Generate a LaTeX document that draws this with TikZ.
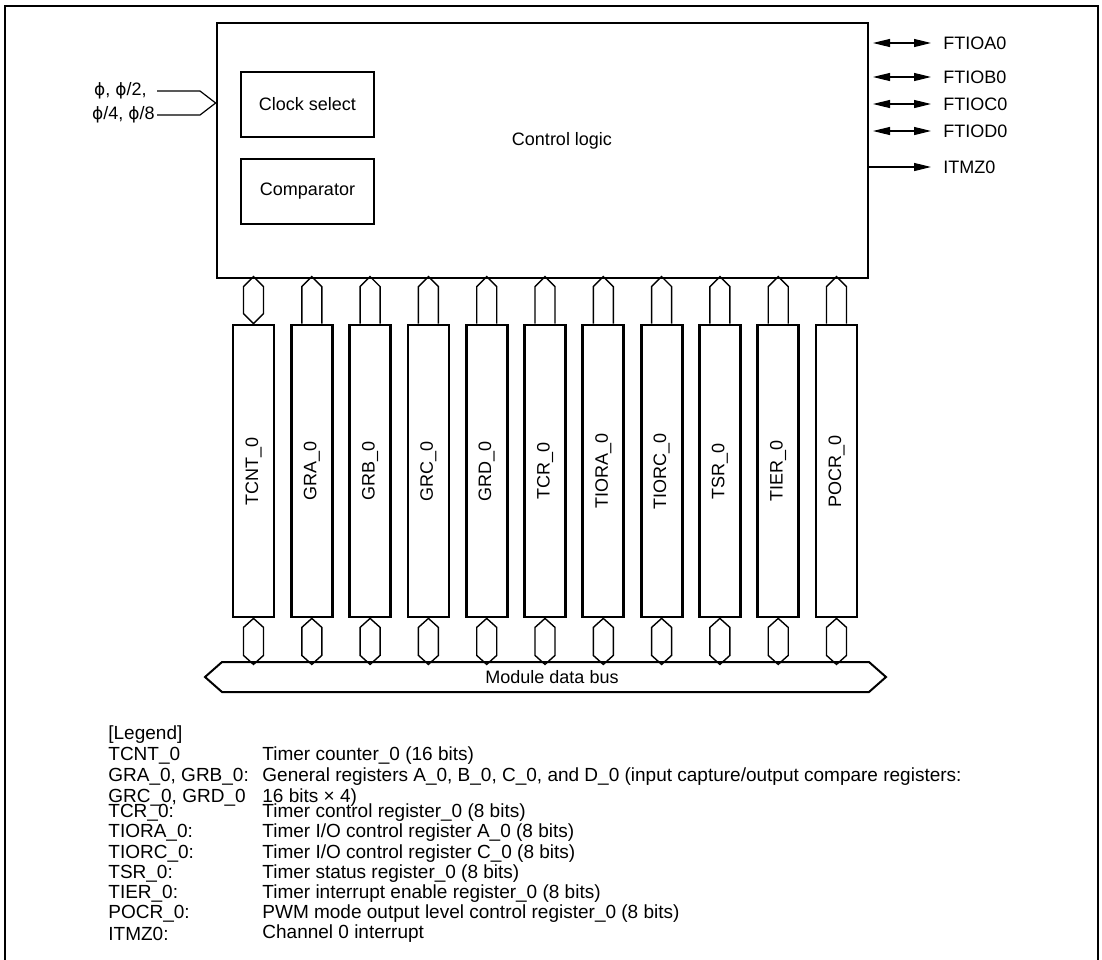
\documentclass[tikz,border=0pt]{standalone}
\usepackage{fontspec}
\setmainfont{Liberation Sans}
\newfontfamily\symfont{DejaVu Sans}
\usepackage{tikz}
\usetikzlibrary{arrows.meta, positioning, calc}
\newcommand{\phs}{{\symfont\fontsize{8.5}{10}\selectfont ϕ}}

\begin{document}
\begin{tikzpicture}[x=0.5pt, y=-0.5pt,
        every node/.style={font=\fontsize{9}{11}\selectfont, inner sep=0pt},
        legtext/.style={anchor=west, font=\fontsize{9.5}{11}\selectfont},
        thickbox/.style={draw, line width=1.35pt},
        regbox/.style={draw, line width=1.4pt, minimum width=20.5pt, minimum height=146pt},
        hexline/.style={line width=0.7pt, line join=miter},
        sig/.style={line width=0.6pt},
        tip/.style={-{Triangle[length=8.5pt, width=4pt]}},
        biptip/.style={{Triangle[length=8.5pt, width=4pt]}-{Triangle[length=8.5pt, width=4pt]}}]
        \useasboundingbox (0,0) rectangle (1102,959);

        % Outer frame
        \draw[line width=1.2pt] (5,975) -- (5,6) -- (1098,6) -- (1098,975);

        % Control logic block
        \node[thickbox, minimum width=325.5pt, minimum height=127.5pt] (ctrl) at (542.5,150.5) {};
        \node (ctrllbl) at (562,141) {Control logic};
        \node[thickbox, minimum width=66.5pt, minimum height=32.5pt] (clk) at (307.5,104.5) {Clock select};
        \node[thickbox, minimum width=66.5pt, minimum height=32.5pt] (cmp) at (307.5,191.5) {Comparator};

        % Clock inputs
        \node[anchor=east] (ph1) at (147,91) {\phs, \phs/2,};
        \node[anchor=east] (ph2) at (155,115) {\phs/4, \phs/8};
        \coordinate (cin) at (ctrl.west |- 0,103);
        \draw[sig] (157,91) -- (200,91) -- (cin);
        \draw[sig] (ph2.east) ++(2,0) -- (200,115) -- (cin);

        % Output pins
        \foreach \y/\pin/\nm in {43/FTIOA0/fa, 77/FTIOB0/fb, 104/FTIOC0/fc, 131/FTIOD0/fd} {
            \node[anchor=west] (\nm) at (943,\y) {\pin};
            \draw[sig, biptip] (873,\y) -- ([xshift=-6pt]\nm.west);
        }
        \node[anchor=west] (itmz) at (943,167) {ITMZ0};
        \draw[sig, tip] (ctrl.east |- itmz) -- ([xshift=-6pt]itmz.west);

        % Registers
        \foreach \lbl [count=\i] in {TCNT\_0, GRA\_0, GRB\_0, GRC\_0, GRD\_0, TCR\_0,
                                     TIORA\_0, TIORC\_0, TSR\_0, TIER\_0, POCR\_0} {
            \node[regbox] (r\i) at ({195.2+58.3*\i},471) {};
            \node[rotate=90] (l\i) at (r\i) {\lbl};
            % bus link below
            \draw[hexline] (r\i.south) -- ++(-10,9) -- ++(0,28) -- ++(10,9)
                -- ++(10,-9) -- ++(0,-28) -- cycle;
        }
        % links to control logic
        \draw[hexline] (r1.north) -- ++(-10,-10) -- ++(0,-27) -- ++(10,-10)
            -- ++(10,10) -- ++(0,27) -- cycle;
        \foreach \i in {2,...,11} {
            \draw[hexline] (r\i.north) ++(-10,0) -- ++(0,-37) -- ++(10,-10)
                -- ++(10,10) -- ++(0,37);
        }

        % Module data bus
        \draw[line width=1pt, line join=miter] (222,662) -- (869,662) -- (886,677)
            -- (869,692) -- (222,692) -- (205,677) -- cycle;
        \node (bus) at (552,677) {Module data bus};

        % Legend
        \node[legtext] (lg) at (108,735) {[Legend]};
        \foreach \y/\key/\desc [count=\k] in {
            756/{TCNT\_0}/{Timer counter\_0 (16 bits)},
            777/{GRA\_0, GRB\_0:}/{General registers A\_0, B\_0, C\_0, and D\_0 (input capture/output compare registers:},
            798/{GRC\_0, GRD\_0}/{16 bits × 4)},
            813/{TCR\_0:}/{Timer control register\_0 (8 bits)},
            833/{TIORA\_0:}/{Timer I/O control register A\_0 (8 bits)},
            854/{TIORC\_0:}/{Timer I/O control register C\_0 (8 bits)},
            874/{TSR\_0:}/{Timer status register\_0 (8 bits)},
            894/{TIER\_0:}/{Timer interrupt enable register\_0 (8 bits)},
            914/{POCR\_0:}/{PWM mode output level control register\_0 (8 bits)},
            934/{ITMZ0:}/{Channel 0 interrupt}} {
            \node[legtext] (k\k) at (108,\y) {\key};
            \node[legtext] (d\k) at (262,\y) {\desc};
        }
\end{tikzpicture}
\end{document}
